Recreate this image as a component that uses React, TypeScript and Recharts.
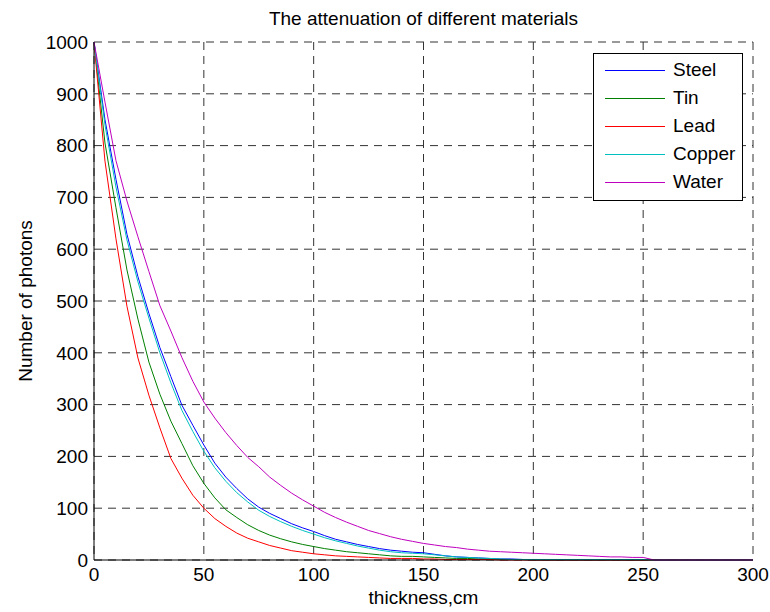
import { LineChart, Line, XAxis, YAxis, CartesianGrid, Legend } from "recharts";

// thickness in cm, sampled every 5 cm
const thickness = [
  0, 5, 10, 15, 20, 25, 30, 35, 40, 45, 50, 55, 60, 65, 70, 75, 80, 85, 90, 95,
  100, 105, 110, 115, 120, 125, 130, 135, 140, 145, 150, 155, 160, 165, 170, 175, 180, 185, 190, 195,
  200, 205, 210, 215, 220, 225, 230, 235, 240, 245, 250, 255, 260, 265, 270, 275, 280, 285, 290, 295, 300,
];

// photon counts
const steel = [
  1000, 850, 735, 629, 547, 476, 410, 354, 299, 260, 222, 187, 160, 138, 118, 102, 90, 80, 70, 62,
  55, 47, 40, 35, 30, 26, 22, 19, 17, 15, 14, 11, 8, 6, 5, 4, 3, 2, 2, 1,
  0, 0, 0, 0, 0, 0, 0, 0, 0, 0, 0, 0, 0, 0, 0, 0, 0, 0, 0, 0, 0,
];
const tin = [
  1000, 805, 680, 560, 465, 382, 320, 268, 225, 182, 148, 120, 97, 82, 68, 57, 48, 41, 35, 30,
  26, 22, 19, 16, 14, 12, 10, 8, 7, 7, 6, 5, 4, 3, 3, 2, 2, 1, 1, 1,
  0, 0, 0, 0, 0, 0, 0, 0, 0, 0, 0, 0, 0, 0, 0, 0, 0, 0, 0, 0, 0,
];
const lead = [
  1000, 770, 620, 490, 390, 318, 255, 196, 158, 125, 100, 80, 65, 52, 42, 35, 28, 23, 18, 15,
  12, 10, 8, 7, 6, 5, 4, 3, 3, 3, 2, 2, 1, 1, 1, 1, 1, 0, 0, 0,
  0, 0, 0, 0, 0, 0, 0, 0, 0, 0, 0, 0, 0, 0, 0, 0, 0, 0, 0, 0, 0,
];
const copper = [
  1000, 840, 720, 618, 537, 467, 400, 342, 289, 248, 210, 178, 152, 130, 112, 96, 84, 74, 65, 57,
  50, 43, 37, 32, 27, 23, 19, 16, 14, 13, 12, 10, 8, 6, 5, 4, 3, 2, 1, 1,
  1, 1, 1, 1, 1, 1, 1, 1, 1, 1, 1, 0, 0, 0, 0, 0, 0, 0, 0, 0, 0,
];
const water = [
  1000, 884, 771, 693, 624, 557, 491, 442, 391, 345, 305, 274, 246, 221, 198, 180, 160, 144, 129, 116,
  104, 92, 82, 73, 65, 57, 51, 45, 40, 36, 32, 29, 26, 24, 21, 19, 17, 16, 15, 14,
  13, 12, 11, 10, 9, 8, 7, 6, 6, 5, 5, 0, 0, 0, 0, 0, 0, 0, 0, 0, 0,
];

const xTicks = [0, 50, 100, 150, 200, 250, 300];
const yTicks = [0, 100, 200, 300, 400, 500, 600, 700, 800, 900, 1000];

const series = [
  { key: "steel", name: "Steel", color: "#0000ff" },
  { key: "tin", name: "Tin", color: "#008000" },
  { key: "lead", name: "Lead", color: "#ff0000" },
  { key: "copper", name: "Copper", color: "#00bfbf" },
  { key: "water", name: "Water", color: "#bf00bf" },
];

const FONT = '"Liberation Sans", Arial, Helvetica, sans-serif';

// boxed legend like the matlab one, top right inside the axes
function BoxLegend() {
  return (
    <div
      style={{
        width: 148,
        height: 144,
        border: "1px solid #000",
        background: "#fff",
        paddingTop: 2,
        boxSizing: "content-box",
        fontFamily: FONT,
        fontSize: 19,
        lineHeight: "28px",
        color: "#000",
      }}
    >
      {series.map((s) => (
        <div key={s.key} style={{ display: "flex", alignItems: "center", height: 28 }}>
          <div style={{ width: 60, height: 1, marginLeft: 11, marginRight: 8, backgroundColor: s.color }} />
          <span>{s.name}</span>
        </div>
      ))}
    </div>
  );
}

export default function App() {
  const rows = thickness.map((t, i) => ({
    t,
    steel: steel[i],
    tin: tin[i],
    lead: lead[i],
    copper: copper[i],
    water: water[i],
  }));

  return (
    <div style={{ position: "absolute", left: 0, top: 0, width: 770, height: 612, background: "#fff", fontFamily: FONT }}>
      <div
        style={{
          position: "absolute",
          top: 9,
          left: 94,
          width: 659,
          textAlign: "center",
          fontSize: 19,
          lineHeight: "19px",
          color: "#000",
        }}
      >
        The attenuation of different materials
      </div>
      <LineChart width={770} height={612} data={rows} margin={{ top: 42, right: 17, bottom: 0, left: 0 }}>
        <CartesianGrid stroke="#333" strokeDasharray="8 6" horizontalValues={yTicks} verticalValues={xTicks} />
        <XAxis
          dataKey="t"
          type="number"
          domain={[0, 300]}
          ticks={xTicks}
          height={52}
          tickLine={false}
          axisLine={{ stroke: "#000" }}
          tick={{ fill: "#000", fontSize: 19, fontFamily: FONT }}
          label={{ value: "thickness,cm", position: "insideBottom", offset: 8, fill: "#000", fontSize: 19, fontFamily: FONT }}
        />
        <XAxis xAxisId="top" orientation="top" type="number" domain={[0, 300]} height={0} tick={false} tickLine={false} axisLine={{ stroke: "#000" }} />
        <YAxis
          type="number"
          domain={[0, 1000]}
          ticks={yTicks}
          width={94}
          tickLine={false}
          tickMargin={0}
          axisLine={{ stroke: "#000" }}
          tick={{ fill: "#000", fontSize: 19, fontFamily: FONT }}
          label={{
            value: "Number of photons",
            angle: -90,
            position: "insideLeft",
            offset: 25,
            fill: "#000",
            fontSize: 19,
            fontFamily: FONT,
            style: { textAnchor: "middle" },
          }}
        />
        <YAxis yAxisId="right" orientation="right" type="number" domain={[0, 1000]} width={0} tick={false} tickLine={false} axisLine={{ stroke: "#000" }} />
        <Legend
          layout="horizontal"
          verticalAlign="middle"
          align="center"
          wrapperStyle={{ left: 593, top: 53, width: 150, height: 148 }}
          content={() => <BoxLegend />}
        />
        {series.map((s) => (
          <Line
            key={s.key}
            type="linear"
            dataKey={s.key}
            name={s.name}
            stroke={s.color}
            strokeWidth={1}
            dot={false}
            activeDot={false}
            isAnimationActive={false}
          />
        ))}
      </LineChart>
    </div>
  );
}
